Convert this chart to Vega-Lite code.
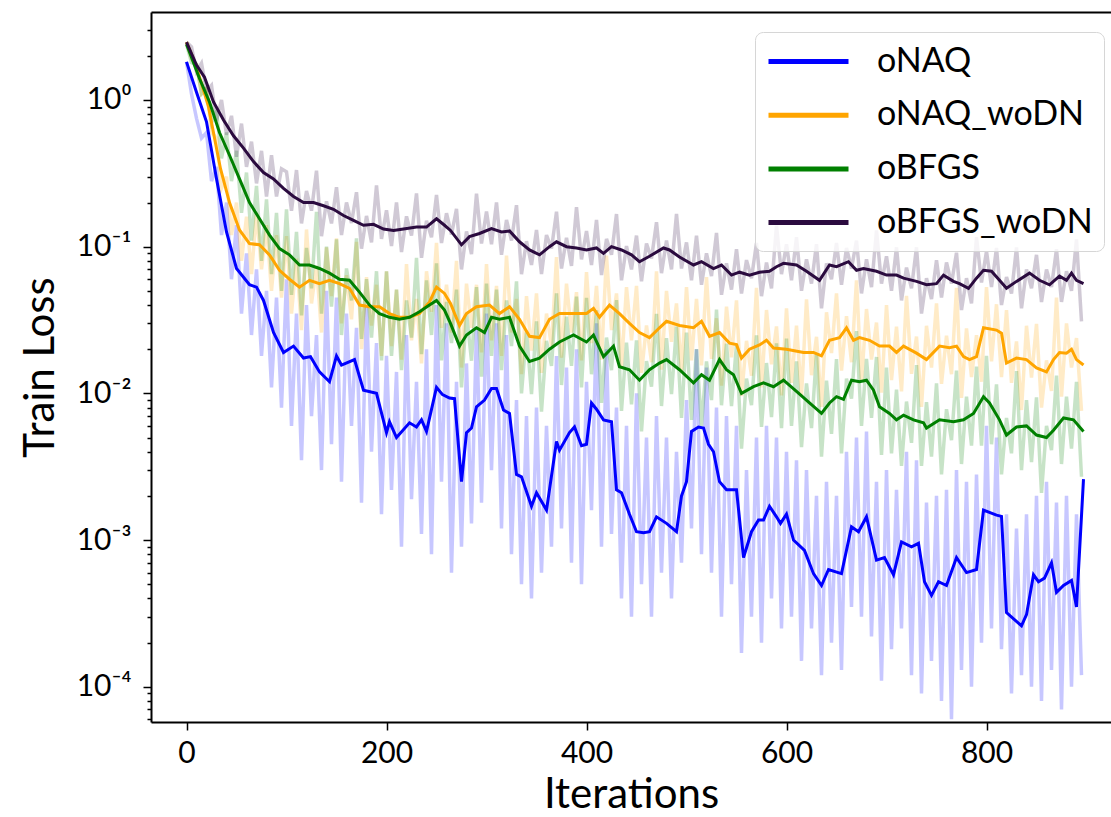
{
"$schema":"https://vega.github.io/schema/vega-lite/v6.json",
"width":960,"height":710,
"autosize":{"type":"none"},
"padding":{"left":151,"top":12,"right":0,"bottom":95},
"config":{"view":{"stroke":null},"font":"Lato"},
"datasets":{
"raw":[
{"x":0,"a":1.82,"b":2.48,"c":2.4,"d":2.48},
{"x":5,"a":1.1,"b":1.9,"c":1.8,"d":2.3},
{"x":10,"a":0.75,"b":1.75,"c":1.75,"d":1.56},
{"x":15,"a":0.55,"b":1.1,"c":1.1,"d":1.78},
{"x":20,"a":0.6,"b":1.2,"c":1.2,"d":1.15},
{"x":25,"a":0.28,"b":0.6,"c":0.7,"d":1.26},
{"x":30,"a":0.35,"b":0.55,"c":0.85,"d":0.72},
{"x":35,"a":0.12,"b":0.25,"c":0.4,"d":1.0},
{"x":40,"a":0.2,"b":0.3,"c":0.6,"d":0.58},
{"x":45,"a":0.06,"b":0.12,"c":0.28,"d":0.78},
{"x":50,"a":0.14,"b":0.2,"c":0.45,"d":0.41},
{"x":55,"a":0.035,"b":0.08,"c":0.17,"d":0.69},
{"x":60,"a":0.09,"b":0.16,"c":0.32,"d":0.35},
{"x":65,"a":0.025,"b":0.065,"c":0.11,"d":0.52},
{"x":70,"a":0.07,"b":0.17,"c":0.26,"d":0.27},
{"x":75,"a":0.018,"b":0.07,"c":0.08,"d":0.45},
{"x":80,"a":0.05,"b":0.14,"c":0.21,"d":0.22},
{"x":85,"a":0.011,"b":0.05,"c":0.065,"d":0.42},
{"x":90,"a":0.045,"b":0.12,"c":0.17,"d":0.22},
{"x":95,"a":0.008,"b":0.045,"c":0.05,"d":0.34},
{"x":100,"a":0.06,"b":0.118,"c":0.18,"d":0.324},
{"x":105,"a":0.006,"b":0.035,"c":0.047,"d":0.176},
{"x":110,"a":0.035,"b":0.083,"c":0.126,"d":0.333},
{"x":115,"a":0.0035,"b":0.027,"c":0.034,"d":0.144},
{"x":120,"a":0.04,"b":0.131,"c":0.098,"d":0.24},
{"x":125,"a":0.007,"b":0.041,"c":0.052,"d":0.176},
{"x":130,"a":0.025,"b":0.074,"c":0.173,"d":0.33},
{"x":135,"a":0.003,"b":0.026,"c":0.035,"d":0.118},
{"x":140,"a":0.05,"b":0.099,"c":0.1,"d":0.204},
{"x":145,"a":0.0045,"b":0.046,"c":0.039,"d":0.144},
{"x":150,"a":0.045,"b":0.114,"c":0.112,"d":0.254},
{"x":155,"a":0.0025,"b":0.03,"c":0.025,"d":0.12},
{"x":160,"a":0.035,"b":0.064,"c":0.071,"d":0.2},
{"x":165,"a":0.006,"b":0.032,"c":0.043,"d":0.145},
{"x":170,"a":0.028,"b":0.108,"c":0.114,"d":0.235},
{"x":175,"a":0.0018,"b":0.02,"c":0.0235,"d":0.097},
{"x":180,"a":0.04,"b":0.062,"c":0.06,"d":0.162},
{"x":185,"a":0.004,"b":0.029,"c":0.024,"d":0.107},
{"x":190,"a":0.022,"b":0.055,"c":0.068,"d":0.262},
{"x":195,"a":0.0015,"b":0.018,"c":0.0168,"d":0.113},
{"x":200,"a":0.018,"b":0.068,"c":0.068,"d":0.177},
{"x":205,"a":0.0022,"b":0.021,"c":0.018,"d":0.101},
{"x":210,"a":0.014,"b":0.051,"c":0.051,"d":0.2},
{"x":215,"a":0.0009,"b":0.017,"c":0.0144,"d":0.092},
{"x":220,"a":0.025,"b":0.076,"c":0.043,"d":0.161},
{"x":225,"a":0.0019,"b":0.023,"c":0.024,"d":0.119},
{"x":230,"a":0.012,"b":0.044,"c":0.084,"d":0.231},
{"x":235,"a":0.0011,"b":0.016,"c":0.0185,"d":0.084},
{"x":240,"a":0.02,"b":0.068,"c":0.059,"d":0.15},
{"x":245,"a":0.0008,"b":0.036,"c":0.025,"d":0.116},
{"x":250,"a":0.04,"b":0.106,"c":0.077,"d":0.225},
{"x":255,"a":0.0025,"b":0.028,"c":0.0168,"d":0.106},
{"x":260,"a":0.03,"b":0.055,"c":0.042,"d":0.169},
{"x":265,"a":0.0006,"b":0.026,"c":0.022,"d":0.121},
{"x":270,"a":0.012,"b":0.08,"c":0.051,"d":0.181},
{"x":275,"a":0.0009,"b":0.015,"c":0.011,"d":0.07},
{"x":280,"a":0.016,"b":0.056,"c":0.035,"d":0.127},
{"x":285,"a":0.0013,"b":0.028,"c":0.0167,"d":0.089},
{"x":290,"a":0.028,"b":0.055,"c":0.053,"d":0.23},
{"x":295,"a":0.0018,"b":0.019,"c":0.013,"d":0.105},
{"x":300,"a":0.035,"b":0.076,"c":0.056,"d":0.174},
{"x":305,"a":0.003,"b":0.023,"c":0.018,"d":0.104},
{"x":310,"a":0.03,"b":0.054,"c":0.051,"d":0.2},
{"x":315,"a":0.0012,"b":0.018,"c":0.0144,"d":0.088},
{"x":320,"a":0.025,"b":0.087,"c":0.043,"d":0.152},
{"x":325,"a":0.0008,"b":0.026,"c":0.021,"d":0.11},
{"x":330,"a":0.009,"b":0.044,"c":0.058,"d":0.192},
{"x":335,"a":0.0005,"b":0.0135,"c":0.01,"d":0.065},
{"x":340,"a":0.007,"b":0.046,"c":0.026,"d":0.109},
{"x":345,"a":0.0004,"b":0.0196,"c":0.0099,"d":0.075},
{"x":350,"a":0.008,"b":0.048,"c":0.031,"d":0.13},
{"x":355,"a":0.0006,"b":0.0138,"c":0.0075,"d":0.065},
{"x":360,"a":0.006,"b":0.035,"c":0.0228,"d":0.12},
{"x":365,"a":0.0009,"b":0.021,"c":0.0154,"d":0.097},
{"x":370,"a":0.018,"b":0.085,"c":0.048,"d":0.173},
{"x":375,"a":0.0012,"b":0.0175,"c":0.0114,"d":0.071},
{"x":380,"a":0.015,"b":0.056,"c":0.0333,"d":0.115},
{"x":385,"a":0.0007,"b":0.026,"c":0.0154,"d":0.074},
{"x":390,"a":0.02,"b":0.049,"c":0.0456,"d":0.186},
{"x":395,"a":0.0005,"b":0.0168,"c":0.011,"d":0.082},
{"x":400,"a":0.012,"b":0.067,"c":0.0448,"d":0.128},
{"x":405,"a":0.0016,"b":0.022,"c":0.0135,"d":0.075},
{"x":410,"a":0.03,"b":0.054,"c":0.0368,"d":0.152},
{"x":415,"a":0.0009,"b":0.017,"c":0.0086,"d":0.064},
{"x":420,"a":0.02,"b":0.087,"c":0.024,"d":0.113},
{"x":425,"a":0.0011,"b":0.027,"c":0.0144,"d":0.088},
{"x":430,"a":0.008,"b":0.048,"c":0.0432,"d":0.167},
{"x":435,"a":0.0004,"b":0.0153,"c":0.0076,"d":0.059},
{"x":440,"a":0.006,"b":0.053,"c":0.0222,"d":0.101},
{"x":445,"a":0.0003,"b":0.023,"c":0.0084,"d":0.07},
{"x":450,"a":0.01,"b":0.054,"c":0.023,"d":0.119},
{"x":455,"a":0.0005,"b":0.0138,"c":0.0055,"d":0.058},
{"x":460,"a":0.005,"b":0.029,"c":0.0166,"d":0.105},
{"x":465,"a":0.0003,"b":0.0163,"c":0.0111,"d":0.083},
{"x":470,"a":0.007,"b":0.068,"c":0.0348,"d":0.147},
{"x":475,"a":0.0006,"b":0.0145,"c":0.0082,"d":0.066},
{"x":480,"a":0.005,"b":0.05,"c":0.0238,"d":0.11},
{"x":485,"a":0.0004,"b":0.0225,"c":0.0099,"d":0.07},
{"x":490,"a":0.004,"b":0.041,"c":0.0285,"d":0.167},
{"x":495,"a":0.0007,"b":0.0139,"c":0.0068,"d":0.071},
{"x":500,"a":0.009,"b":0.053,"c":0.026,"d":0.107},
{"x":505,"a":0.0012,"b":0.0168,"c":0.0066,"d":0.059},
{"x":510,"a":0.02,"b":0.044,"c":0.02,"d":0.119},
{"x":515,"a":0.0008,"b":0.0155,"c":0.006,"d":0.055},
{"x":520,"a":0.015,"b":0.062,"c":0.0165,"d":0.09},
{"x":525,"a":0.0006,"b":0.0172,"c":0.009,"d":0.063},
{"x":530,"a":0.008,"b":0.0325,"c":0.0372,"d":0.124},
{"x":535,"a":0.0003,"b":0.0113,"c":0.0083,"d":0.047},
{"x":540,"a":0.007,"b":0.039,"c":0.0218,"d":0.077},
{"x":545,"a":0.0005,"b":0.0176,"c":0.0082,"d":0.051},
{"x":550,"a":0.006,"b":0.043,"c":0.0216,"d":0.096},
{"x":555,"a":0.00017,"b":0.0096,"c":0.0042,"d":0.048},
{"x":560,"a":0.003,"b":0.0228,"c":0.0126,"d":0.081},
{"x":565,"a":0.0003,"b":0.0132,"c":0.0083,"d":0.061},
{"x":570,"a":0.005,"b":0.0525,"c":0.0249,"d":0.106},
{"x":575,"a":0.0002,"b":0.011,"c":0.0059,"d":0.046},
{"x":580,"a":0.006,"b":0.037,"c":0.0161,"d":0.078},
{"x":585,"a":0.0004,"b":0.0158,"c":0.0069,"d":0.052},
{"x":590,"a":0.005,"b":0.0286,"c":0.0219,"d":0.139},
{"x":595,"a":0.00025,"b":0.0097,"c":0.0058,"d":0.065},
{"x":600,"a":0.004,"b":0.038,"c":0.0236,"d":0.104},
{"x":605,"a":0.0003,"b":0.0118,"c":0.006,"d":0.059},
{"x":610,"a":0.0035,"b":0.029,"c":0.0165,"d":0.116},
{"x":615,"a":0.00015,"b":0.0096,"c":0.0043,"d":0.05},
{"x":620,"a":0.003,"b":0.0437,"c":0.0117,"d":0.082},
{"x":625,"a":0.00025,"b":0.0133,"c":0.0058,"d":0.056},
{"x":630,"a":0.002,"b":0.0243,"c":0.0187,"d":0.104},
{"x":635,"a":0.00012,"b":0.0081,"c":0.0037,"d":0.038},
{"x":640,"a":0.0025,"b":0.0357,"c":0.0122,"d":0.077},
{"x":645,"a":0.0002,"b":0.0188,"c":0.0053,"d":0.06},
{"x":650,"a":0.002,"b":0.048,"c":0.0171,"d":0.106},
{"x":655,"a":0.00013,"b":0.0143,"c":0.0039,"d":0.055},
{"x":660,"a":0.004,"b":0.0336,"c":0.0126,"d":0.098},
{"x":665,"a":0.00035,"b":0.0163,"c":0.0092,"d":0.071},
{"x":670,"a":0.005,"b":0.059,"c":0.0266,"d":0.11},
{"x":675,"a":0.0003,"b":0.012,"c":0.006,"d":0.048},
{"x":680,"a":0.0055,"b":0.0376,"c":0.0172,"d":0.082},
{"x":685,"a":0.00022,"b":0.017,"c":0.0068,"d":0.053},
{"x":690,"a":0.0025,"b":0.0304,"c":0.0177,"d":0.129},
{"x":695,"a":0.00011,"b":0.0101,"c":0.0038,"d":0.056},
{"x":700,"a":0.003,"b":0.04,"c":0.015,"d":0.086},
{"x":705,"a":0.00018,"b":0.0123,"c":0.0039,"d":0.05},
{"x":710,"a":0.0022,"b":0.0285,"c":0.0106,"d":0.099},
{"x":715,"a":0.00025,"b":0.0103,"c":0.0032,"d":0.043},
{"x":720,"a":0.004,"b":0.0462,"c":0.0088,"d":0.072},
{"x":725,"a":0.00012,"b":0.0136,"c":0.0046,"d":0.052},
{"x":730,"a":0.0035,"b":0.0244,"c":0.0156,"d":0.099},
{"x":735,"a":0.00009,"b":0.0081,"c":0.0032,"d":0.035},
{"x":740,"a":0.0018,"b":0.0289,"c":0.0087,"d":0.061},
{"x":745,"a":0.00015,"b":0.015,"c":0.0037,"d":0.044},
{"x":750,"a":0.002,"b":0.041,"c":0.0117,"d":0.081},
{"x":755,"a":0.00008,"b":0.0116,"c":0.0028,"d":0.045},
{"x":760,"a":0.0022,"b":0.0247,"c":0.0078,"d":0.078},
{"x":765,"a":0.00006,"b":0.0135,"c":0.0048,"d":0.056},
{"x":770,"a":0.003,"b":0.0525,"c":0.0143,"d":0.091},
{"x":775,"a":0.00013,"b":0.0093,"c":0.0033,"d":0.037},
{"x":780,"a":0.0025,"b":0.0277,"c":0.0095,"d":0.061},
{"x":785,"a":0.0001,"b":0.0129,"c":0.0044,"d":0.041},
{"x":790,"a":0.0028,"b":0.0249,"c":0.0152,"d":0.116},
{"x":795,"a":0.0002,"b":0.012,"c":0.0044,"d":0.057},
{"x":800,"a":0.006,"b":0.053,"c":0.018,"d":0.093},
{"x":805,"a":0.00025,"b":0.0165,"c":0.0045,"d":0.053},
{"x":810,"a":0.005,"b":0.0405,"c":0.0115,"d":0.098},
{"x":815,"a":0.00018,"b":0.0129,"c":0.0028,"d":0.04},
{"x":820,"a":0.0015,"b":0.037,"c":0.0068,"d":0.062},
{"x":825,"a":0.00009,"b":0.0118,"c":0.0039,"d":0.048},
{"x":830,"a":0.0012,"b":0.0226,"c":0.0142,"d":0.099},
{"x":835,"a":0.00012,"b":0.0077,"c":0.003,"d":0.038},
{"x":840,"a":0.0015,"b":0.0289,"c":0.009,"d":0.07},
{"x":845,"a":0.0001,"b":0.0128,"c":0.0034,"d":0.052},
{"x":850,"a":0.002,"b":0.0298,"c":0.0094,"d":0.088},
{"x":855,"a":0.00008,"b":0.008,"c":0.0021,"d":0.042},
{"x":860,"a":0.0025,"b":0.0168,"c":0.006,"d":0.07},
{"x":865,"a":0.00013,"b":0.0104,"c":0.0041,"d":0.053},
{"x":870,"a":0.0018,"b":0.045,"c":0.0132,"d":0.096},
{"x":875,"a":0.00007,"b":0.0095,"c":0.0033,"d":0.042},
{"x":880,"a":0.002,"b":0.03,"c":0.0095,"d":0.068},
{"x":885,"a":0.0001,"b":0.015,"c":0.0042,"d":0.05},
{"x":890,"a":0.0015,"b":0.0238,"c":0.012,"d":0.112},
{"x":895,"a":0.00012,"b":0.0076,"c":0.0027,"d":0.031}
],
"smooth":[
{"s":"oNAQ","x":0,"y":1.82},{"s":"oNAQ","x":10,"y":1.13},{"s":"oNAQ","x":20,"y":0.71},{"s":"oNAQ","x":30,"y":0.29},{"s":"oNAQ","x":40,"y":0.126},{"s":"oNAQ","x":50,"y":0.071},{"s":"oNAQ","x":63,"y":0.055},{"s":"oNAQ","x":70,"y":0.053},{"s":"oNAQ","x":77,"y":0.043},{"s":"oNAQ","x":87,"y":0.026},{"s":"oNAQ","x":97,"y":0.019},{"s":"oNAQ","x":107,"y":0.021},{"s":"oNAQ","x":117,"y":0.0174},{"s":"oNAQ","x":124,"y":0.0178},{"s":"oNAQ","x":133,"y":0.014},{"s":"oNAQ","x":143,"y":0.012},{"s":"oNAQ","x":150,"y":0.018},{"s":"oNAQ","x":155,"y":0.0156},{"s":"oNAQ","x":168,"y":0.017},{"s":"oNAQ","x":177,"y":0.0105},{"s":"oNAQ","x":190,"y":0.01},{"s":"oNAQ","x":200,"y":0.0054},{"s":"oNAQ","x":203,"y":0.0064},{"s":"oNAQ","x":210,"y":0.005},{"s":"oNAQ","x":223,"y":0.0063},{"s":"oNAQ","x":230,"y":0.0059},{"s":"oNAQ","x":235,"y":0.0066},{"s":"oNAQ","x":240,"y":0.0055},{"s":"oNAQ","x":250,"y":0.011},{"s":"oNAQ","x":256,"y":0.0098},{"s":"oNAQ","x":263,"y":0.0093},{"s":"oNAQ","x":268,"y":0.0092},{"s":"oNAQ","x":275,"y":0.0025},{"s":"oNAQ","x":280,"y":0.0054},{"s":"oNAQ","x":285,"y":0.0058},{"s":"oNAQ","x":290,"y":0.0081},{"s":"oNAQ","x":298,"y":0.009},{"s":"oNAQ","x":305,"y":0.0108},{"s":"oNAQ","x":310,"y":0.0108},{"s":"oNAQ","x":317,"y":0.0077},{"s":"oNAQ","x":323,"y":0.0073},{"s":"oNAQ","x":330,"y":0.0028},{"s":"oNAQ","x":335,"y":0.0027},{"s":"oNAQ","x":345,"y":0.0017},{"s":"oNAQ","x":350,"y":0.0021},{"s":"oNAQ","x":360,"y":0.0016},{"s":"oNAQ","x":370,"y":0.0047},{"s":"oNAQ","x":373,"y":0.0041},{"s":"oNAQ","x":383,"y":0.0054},{"s":"oNAQ","x":388,"y":0.0059},{"s":"oNAQ","x":395,"y":0.0044},{"s":"oNAQ","x":400,"y":0.0045},{"s":"oNAQ","x":405,"y":0.0086},{"s":"oNAQ","x":410,"y":0.0078},{"s":"oNAQ","x":417,"y":0.0066},{"s":"oNAQ","x":425,"y":0.0064},{"s":"oNAQ","x":430,"y":0.0022},{"s":"oNAQ","x":435,"y":0.0021},{"s":"oNAQ","x":443,"y":0.0015},{"s":"oNAQ","x":450,"y":0.00114},{"s":"oNAQ","x":457,"y":0.00112},{"s":"oNAQ","x":463,"y":0.00114},{"s":"oNAQ","x":470,"y":0.00144},{"s":"oNAQ","x":480,"y":0.0013},{"s":"oNAQ","x":490,"y":0.00114},{"s":"oNAQ","x":495,"y":0.002},{"s":"oNAQ","x":500,"y":0.0025},{"s":"oNAQ","x":505,"y":0.0055},{"s":"oNAQ","x":512,"y":0.0059},{"s":"oNAQ","x":517,"y":0.0058},{"s":"oNAQ","x":522,"y":0.0045},{"s":"oNAQ","x":527,"y":0.004},{"s":"oNAQ","x":533,"y":0.0025},{"s":"oNAQ","x":540,"y":0.0022},{"s":"oNAQ","x":550,"y":0.0022},{"s":"oNAQ","x":557,"y":0.00076},{"s":"oNAQ","x":565,"y":0.00114},{"s":"oNAQ","x":572,"y":0.00137},{"s":"oNAQ","x":577,"y":0.00137},{"s":"oNAQ","x":583,"y":0.0017},{"s":"oNAQ","x":590,"y":0.00144},{"s":"oNAQ","x":594,"y":0.0013},{"s":"oNAQ","x":600,"y":0.0015},{"s":"oNAQ","x":607,"y":0.001},{"s":"oNAQ","x":618,"y":0.00085},{"s":"oNAQ","x":627,"y":0.00059},{"s":"oNAQ","x":635,"y":0.00049},{"s":"oNAQ","x":642,"y":0.00063},{"s":"oNAQ","x":655,"y":0.00059},{"s":"oNAQ","x":665,"y":0.00123},{"s":"oNAQ","x":672,"y":0.00114},{"s":"oNAQ","x":680,"y":0.00144},{"s":"oNAQ","x":690,"y":0.00073},{"s":"oNAQ","x":698,"y":0.00076},{"s":"oNAQ","x":707,"y":0.00058},{"s":"oNAQ","x":715,"y":0.00097},{"s":"oNAQ","x":725,"y":0.0009},{"s":"oNAQ","x":732,"y":0.00095},{"s":"oNAQ","x":738,"y":0.00052},{"s":"oNAQ","x":745,"y":0.00042},{"s":"oNAQ","x":752,"y":0.00052},{"s":"oNAQ","x":760,"y":0.00049},{"s":"oNAQ","x":770,"y":0.00076},{"s":"oNAQ","x":780,"y":0.0006},{"s":"oNAQ","x":790,"y":0.00063},{"s":"oNAQ","x":797,"y":0.0016},{"s":"oNAQ","x":810,"y":0.00148},{"s":"oNAQ","x":815,"y":0.00145},{"s":"oNAQ","x":820,"y":0.00032},{"s":"oNAQ","x":835,"y":0.00026},{"s":"oNAQ","x":840,"y":0.00031},{"s":"oNAQ","x":847,"y":0.00058},{"s":"oNAQ","x":852,"y":0.00052},{"s":"oNAQ","x":858,"y":0.00055},{"s":"oNAQ","x":865,"y":0.0007},{"s":"oNAQ","x":870,"y":0.00044},{"s":"oNAQ","x":877,"y":0.00049},{"s":"oNAQ","x":885,"y":0.00053},{"s":"oNAQ","x":890,"y":0.00035},{"s":"oNAQ","x":897,"y":0.0026},
{"s":"oNAQ_woDN","x":0,"y":2.48},{"s":"oNAQ_woDN","x":7,"y":1.9},{"s":"oNAQ_woDN","x":15,"y":1.3},{"s":"oNAQ_woDN","x":22,"y":0.9},{"s":"oNAQ_woDN","x":28,"y":0.55},{"s":"oNAQ_woDN","x":34,"y":0.34},{"s":"oNAQ_woDN","x":43,"y":0.2},{"s":"oNAQ_woDN","x":53,"y":0.13},{"s":"oNAQ_woDN","x":63,"y":0.105},{"s":"oNAQ_woDN","x":73,"y":0.103},{"s":"oNAQ_woDN","x":83,"y":0.088},{"s":"oNAQ_woDN","x":93,"y":0.069},{"s":"oNAQ_woDN","x":103,"y":0.06},{"s":"oNAQ_woDN","x":113,"y":0.053},{"s":"oNAQ_woDN","x":123,"y":0.059},{"s":"oNAQ_woDN","x":133,"y":0.056},{"s":"oNAQ_woDN","x":143,"y":0.059},{"s":"oNAQ_woDN","x":153,"y":0.056},{"s":"oNAQ_woDN","x":163,"y":0.052},{"s":"oNAQ_woDN","x":173,"y":0.04},{"s":"oNAQ_woDN","x":183,"y":0.039},{"s":"oNAQ_woDN","x":193,"y":0.039},{"s":"oNAQ_woDN","x":203,"y":0.035},{"s":"oNAQ_woDN","x":213,"y":0.033},{"s":"oNAQ_woDN","x":223,"y":0.033},{"s":"oNAQ_woDN","x":233,"y":0.035},{"s":"oNAQ_woDN","x":243,"y":0.042},{"s":"oNAQ_woDN","x":250,"y":0.053},{"s":"oNAQ_woDN","x":258,"y":0.048},{"s":"oNAQ_woDN","x":264,"y":0.041},{"s":"oNAQ_woDN","x":273,"y":0.029},{"s":"oNAQ_woDN","x":280,"y":0.035},{"s":"oNAQ_woDN","x":290,"y":0.039},{"s":"oNAQ_woDN","x":303,"y":0.04},{"s":"oNAQ_woDN","x":313,"y":0.035},{"s":"oNAQ_woDN","x":323,"y":0.039},{"s":"oNAQ_woDN","x":333,"y":0.032},{"s":"oNAQ_woDN","x":343,"y":0.0245},{"s":"oNAQ_woDN","x":353,"y":0.024},{"s":"oNAQ_woDN","x":363,"y":0.032},{"s":"oNAQ_woDN","x":373,"y":0.035},{"s":"oNAQ_woDN","x":387,"y":0.035},{"s":"oNAQ_woDN","x":400,"y":0.035},{"s":"oNAQ_woDN","x":407,"y":0.038},{"s":"oNAQ_woDN","x":413,"y":0.033},{"s":"oNAQ_woDN","x":423,"y":0.04},{"s":"oNAQ_woDN","x":433,"y":0.035},{"s":"oNAQ_woDN","x":443,"y":0.03},{"s":"oNAQ_woDN","x":453,"y":0.026},{"s":"oNAQ_woDN","x":463,"y":0.024},{"s":"oNAQ_woDN","x":473,"y":0.028},{"s":"oNAQ_woDN","x":480,"y":0.031},{"s":"oNAQ_woDN","x":493,"y":0.029},{"s":"oNAQ_woDN","x":507,"y":0.028},{"s":"oNAQ_woDN","x":515,"y":0.031},{"s":"oNAQ_woDN","x":523,"y":0.0245},{"s":"oNAQ_woDN","x":533,"y":0.026},{"s":"oNAQ_woDN","x":543,"y":0.022},{"s":"oNAQ_woDN","x":550,"y":0.0215},{"s":"oNAQ_woDN","x":555,"y":0.0174},{"s":"oNAQ_woDN","x":563,"y":0.02},{"s":"oNAQ_woDN","x":573,"y":0.0214},{"s":"oNAQ_woDN","x":580,"y":0.023},{"s":"oNAQ_woDN","x":587,"y":0.0204},{"s":"oNAQ_woDN","x":600,"y":0.02},{"s":"oNAQ_woDN","x":617,"y":0.019},{"s":"oNAQ_woDN","x":627,"y":0.019},{"s":"oNAQ_woDN","x":635,"y":0.018},{"s":"oNAQ_woDN","x":643,"y":0.023},{"s":"oNAQ_woDN","x":653,"y":0.024},{"s":"oNAQ_woDN","x":660,"y":0.028},{"s":"oNAQ_woDN","x":667,"y":0.023},{"s":"oNAQ_woDN","x":673,"y":0.024},{"s":"oNAQ_woDN","x":683,"y":0.023},{"s":"oNAQ_woDN","x":693,"y":0.021},{"s":"oNAQ_woDN","x":703,"y":0.021},{"s":"oNAQ_woDN","x":710,"y":0.019},{"s":"oNAQ_woDN","x":717,"y":0.021},{"s":"oNAQ_woDN","x":730,"y":0.0188},{"s":"oNAQ_woDN","x":740,"y":0.017},{"s":"oNAQ_woDN","x":753,"y":0.021},{"s":"oNAQ_woDN","x":763,"y":0.0205},{"s":"oNAQ_woDN","x":770,"y":0.021},{"s":"oNAQ_woDN","x":777,"y":0.0178},{"s":"oNAQ_woDN","x":783,"y":0.017},{"s":"oNAQ_woDN","x":790,"y":0.0178},{"s":"oNAQ_woDN","x":797,"y":0.028},{"s":"oNAQ_woDN","x":810,"y":0.027},{"s":"oNAQ_woDN","x":815,"y":0.0257},{"s":"oNAQ_woDN","x":820,"y":0.0161},{"s":"oNAQ_woDN","x":830,"y":0.0174},{"s":"oNAQ_woDN","x":840,"y":0.017},{"s":"oNAQ_woDN","x":850,"y":0.0149},{"s":"oNAQ_woDN","x":860,"y":0.014},{"s":"oNAQ_woDN","x":867,"y":0.017},{"s":"oNAQ_woDN","x":873,"y":0.019},{"s":"oNAQ_woDN","x":880,"y":0.0188},{"s":"oNAQ_woDN","x":885,"y":0.02},{"s":"oNAQ_woDN","x":890,"y":0.017},{"s":"oNAQ_woDN","x":897,"y":0.0156},
{"s":"oBFGS","x":0,"y":2.4},{"s":"oBFGS","x":13,"y":1.4},{"s":"oBFGS","x":23,"y":0.97},{"s":"oBFGS","x":33,"y":0.6},{"s":"oBFGS","x":43,"y":0.42},{"s":"oBFGS","x":53,"y":0.29},{"s":"oBFGS","x":63,"y":0.2},{"s":"oBFGS","x":73,"y":0.155},{"s":"oBFGS","x":83,"y":0.12},{"s":"oBFGS","x":93,"y":0.097},{"s":"oBFGS","x":103,"y":0.088},{"s":"oBFGS","x":113,"y":0.075},{"s":"oBFGS","x":123,"y":0.075},{"s":"oBFGS","x":133,"y":0.071},{"s":"oBFGS","x":143,"y":0.066},{"s":"oBFGS","x":153,"y":0.06},{"s":"oBFGS","x":163,"y":0.059},{"s":"oBFGS","x":173,"y":0.049},{"s":"oBFGS","x":183,"y":0.04},{"s":"oBFGS","x":193,"y":0.035},{"s":"oBFGS","x":203,"y":0.033},{"s":"oBFGS","x":213,"y":0.032},{"s":"oBFGS","x":223,"y":0.033},{"s":"oBFGS","x":233,"y":0.036},{"s":"oBFGS","x":243,"y":0.04},{"s":"oBFGS","x":250,"y":0.043},{"s":"oBFGS","x":258,"y":0.037},{"s":"oBFGS","x":264,"y":0.03},{"s":"oBFGS","x":273,"y":0.021},{"s":"oBFGS","x":280,"y":0.025},{"s":"oBFGS","x":290,"y":0.028},{"s":"oBFGS","x":298,"y":0.026},{"s":"oBFGS","x":305,"y":0.033},{"s":"oBFGS","x":313,"y":0.032},{"s":"oBFGS","x":323,"y":0.033},{"s":"oBFGS","x":333,"y":0.021},{"s":"oBFGS","x":343,"y":0.0165},{"s":"oBFGS","x":353,"y":0.0174},{"s":"oBFGS","x":363,"y":0.02},{"s":"oBFGS","x":373,"y":0.0224},{"s":"oBFGS","x":387,"y":0.025},{"s":"oBFGS","x":400,"y":0.0224},{"s":"oBFGS","x":407,"y":0.025},{"s":"oBFGS","x":417,"y":0.0178},{"s":"oBFGS","x":427,"y":0.021},{"s":"oBFGS","x":433,"y":0.0152},{"s":"oBFGS","x":443,"y":0.0145},{"s":"oBFGS","x":453,"y":0.0123},{"s":"oBFGS","x":463,"y":0.0145},{"s":"oBFGS","x":473,"y":0.0161},{"s":"oBFGS","x":480,"y":0.017},{"s":"oBFGS","x":493,"y":0.0145},{"s":"oBFGS","x":507,"y":0.0118},{"s":"oBFGS","x":515,"y":0.0134},{"s":"oBFGS","x":523,"y":0.0123},{"s":"oBFGS","x":533,"y":0.017},{"s":"oBFGS","x":540,"y":0.0145},{"s":"oBFGS","x":547,"y":0.0134},{"s":"oBFGS","x":555,"y":0.01},{"s":"oBFGS","x":567,"y":0.0111},{"s":"oBFGS","x":577,"y":0.0118},{"s":"oBFGS","x":587,"y":0.0111},{"s":"oBFGS","x":597,"y":0.0123},{"s":"oBFGS","x":610,"y":0.0103},{"s":"oBFGS","x":623,"y":0.0086},{"s":"oBFGS","x":635,"y":0.0073},{"s":"oBFGS","x":643,"y":0.0086},{"s":"oBFGS","x":650,"y":0.0095},{"s":"oBFGS","x":657,"y":0.0091},{"s":"oBFGS","x":665,"y":0.0123},{"s":"oBFGS","x":673,"y":0.012},{"s":"oBFGS","x":680,"y":0.0123},{"s":"oBFGS","x":687,"y":0.0105},{"s":"oBFGS","x":693,"y":0.0081},{"s":"oBFGS","x":703,"y":0.0073},{"s":"oBFGS","x":710,"y":0.0066},{"s":"oBFGS","x":717,"y":0.0071},{"s":"oBFGS","x":727,"y":0.0066},{"s":"oBFGS","x":737,"y":0.0063},{"s":"oBFGS","x":740,"y":0.0058},{"s":"oBFGS","x":753,"y":0.0066},{"s":"oBFGS","x":767,"y":0.0064},{"s":"oBFGS","x":777,"y":0.0066},{"s":"oBFGS","x":787,"y":0.0073},{"s":"oBFGS","x":797,"y":0.0095},{"s":"oBFGS","x":803,"y":0.0086},{"s":"oBFGS","x":813,"y":0.0066},{"s":"oBFGS","x":820,"y":0.0052},{"s":"oBFGS","x":830,"y":0.0059},{"s":"oBFGS","x":840,"y":0.006},{"s":"oBFGS","x":850,"y":0.0052},{"s":"oBFGS","x":860,"y":0.005},{"s":"oBFGS","x":867,"y":0.0056},{"s":"oBFGS","x":877,"y":0.0068},{"s":"oBFGS","x":887,"y":0.0066},{"s":"oBFGS","x":897,"y":0.0055},
{"s":"oBFGS_woDN","x":0,"y":2.48},{"s":"oBFGS_woDN","x":10,"y":1.73},{"s":"oBFGS_woDN","x":18,"y":1.43},{"s":"oBFGS_woDN","x":27,"y":0.97},{"s":"oBFGS_woDN","x":37,"y":0.73},{"s":"oBFGS_woDN","x":47,"y":0.57},{"s":"oBFGS_woDN","x":57,"y":0.47},{"s":"oBFGS_woDN","x":67,"y":0.38},{"s":"oBFGS_woDN","x":77,"y":0.32},{"s":"oBFGS_woDN","x":87,"y":0.29},{"s":"oBFGS_woDN","x":97,"y":0.25},{"s":"oBFGS_woDN","x":107,"y":0.22},{"s":"oBFGS_woDN","x":117,"y":0.2},{"s":"oBFGS_woDN","x":127,"y":0.2},{"s":"oBFGS_woDN","x":137,"y":0.19},{"s":"oBFGS_woDN","x":147,"y":0.18},{"s":"oBFGS_woDN","x":157,"y":0.163},{"s":"oBFGS_woDN","x":167,"y":0.151},{"s":"oBFGS_woDN","x":177,"y":0.14},{"s":"oBFGS_woDN","x":187,"y":0.142},{"s":"oBFGS_woDN","x":197,"y":0.132},{"s":"oBFGS_woDN","x":207,"y":0.129},{"s":"oBFGS_woDN","x":217,"y":0.132},{"s":"oBFGS_woDN","x":230,"y":0.136},{"s":"oBFGS_woDN","x":240,"y":0.136},{"s":"oBFGS_woDN","x":250,"y":0.155},{"s":"oBFGS_woDN","x":258,"y":0.14},{"s":"oBFGS_woDN","x":264,"y":0.129},{"s":"oBFGS_woDN","x":275,"y":0.103},{"s":"oBFGS_woDN","x":283,"y":0.117},{"s":"oBFGS_woDN","x":293,"y":0.123},{"s":"oBFGS_woDN","x":305,"y":0.133},{"s":"oBFGS_woDN","x":315,"y":0.126},{"s":"oBFGS_woDN","x":323,"y":0.128},{"s":"oBFGS_woDN","x":333,"y":0.108},{"s":"oBFGS_woDN","x":343,"y":0.095},{"s":"oBFGS_woDN","x":353,"y":0.088},{"s":"oBFGS_woDN","x":363,"y":0.1},{"s":"oBFGS_woDN","x":370,"y":0.108},{"s":"oBFGS_woDN","x":380,"y":0.1},{"s":"oBFGS_woDN","x":390,"y":0.098},{"s":"oBFGS_woDN","x":400,"y":0.095},{"s":"oBFGS_woDN","x":410,"y":0.098},{"s":"oBFGS_woDN","x":417,"y":0.09},{"s":"oBFGS_woDN","x":425,"y":0.1},{"s":"oBFGS_woDN","x":435,"y":0.095},{"s":"oBFGS_woDN","x":445,"y":0.088},{"s":"oBFGS_woDN","x":453,"y":0.079},{"s":"oBFGS_woDN","x":463,"y":0.086},{"s":"oBFGS_woDN","x":477,"y":0.098},{"s":"oBFGS_woDN","x":483,"y":0.095},{"s":"oBFGS_woDN","x":493,"y":0.085},{"s":"oBFGS_woDN","x":507,"y":0.075},{"s":"oBFGS_woDN","x":515,"y":0.079},{"s":"oBFGS_woDN","x":527,"y":0.071},{"s":"oBFGS_woDN","x":535,"y":0.075},{"s":"oBFGS_woDN","x":545,"y":0.064},{"s":"oBFGS_woDN","x":553,"y":0.067},{"s":"oBFGS_woDN","x":563,"y":0.064},{"s":"oBFGS_woDN","x":573,"y":0.067},{"s":"oBFGS_woDN","x":583,"y":0.068},{"s":"oBFGS_woDN","x":590,"y":0.073},{"s":"oBFGS_woDN","x":597,"y":0.077},{"s":"oBFGS_woDN","x":610,"y":0.075},{"s":"oBFGS_woDN","x":620,"y":0.068},{"s":"oBFGS_woDN","x":633,"y":0.059},{"s":"oBFGS_woDN","x":643,"y":0.075},{"s":"oBFGS_woDN","x":650,"y":0.073},{"s":"oBFGS_woDN","x":662,"y":0.079},{"s":"oBFGS_woDN","x":670,"y":0.069},{"s":"oBFGS_woDN","x":677,"y":0.071},{"s":"oBFGS_woDN","x":690,"y":0.068},{"s":"oBFGS_woDN","x":700,"y":0.064},{"s":"oBFGS_woDN","x":710,"y":0.064},{"s":"oBFGS_woDN","x":717,"y":0.061},{"s":"oBFGS_woDN","x":730,"y":0.058},{"s":"oBFGS_woDN","x":740,"y":0.055},{"s":"oBFGS_woDN","x":750,"y":0.056},{"s":"oBFGS_woDN","x":757,"y":0.064},{"s":"oBFGS_woDN","x":767,"y":0.058},{"s":"oBFGS_woDN","x":773,"y":0.056},{"s":"oBFGS_woDN","x":782,"y":0.052},{"s":"oBFGS_woDN","x":790,"y":0.061},{"s":"oBFGS_woDN","x":797,"y":0.069},{"s":"oBFGS_woDN","x":805,"y":0.068},{"s":"oBFGS_woDN","x":813,"y":0.059},{"s":"oBFGS_woDN","x":820,"y":0.052},{"s":"oBFGS_woDN","x":830,"y":0.058},{"s":"oBFGS_woDN","x":843,"y":0.066},{"s":"oBFGS_woDN","x":853,"y":0.059},{"s":"oBFGS_woDN","x":863,"y":0.055},{"s":"oBFGS_woDN","x":873,"y":0.063},{"s":"oBFGS_woDN","x":880,"y":0.059},{"s":"oBFGS_woDN","x":885,"y":0.066},{"s":"oBFGS_woDN","x":890,"y":0.059},{"s":"oBFGS_woDN","x":897,"y":0.056}
]},
"layer":[
{"data":{"name":"raw"},
 "transform":[{"fold":["a","b","c","d"],"as":["series","loss"]}],
 "mark":{"type":"line","strokeWidth":3.5,"opacity":0.22,"clip":true},
 "encoding":{
  "x":{"field":"x","type":"quantitative","scale":{"domain":[-35.5,924.5],"nice":false,"zero":false},
   "axis":{"values":[0,200,400,600,800],"format":"d","title":"Iterations","grid":false,"tickSize":8,"tickWidth":1.5,"tickColor":"black","domainColor":"black","domainWidth":2,"labelFontSize":30,"labelColor":"black","labelPadding":8,"labelFont":"Lato","titleFont":"Lato","titleFontSize":42,"titleFontWeight":"normal","titleColor":"black","titlePadding":6}},
  "y":{"field":"loss","type":"quantitative","scale":{"type":"log","domain":[0.0000575,3.98],"nice":false},
   "axis":{"values":[0.00006,0.00007,0.00008,0.00009,0.0001,0.0002,0.0003,0.0004,0.0005,0.0006,0.0007,0.0008,0.0009,0.001,0.002,0.003,0.004,0.005,0.006,0.007,0.008,0.009,0.01,0.02,0.03,0.04,0.05,0.06,0.07,0.08,0.09,0.1,0.2,0.3,0.4,0.5,0.6,0.7,0.8,0.9,1,2,3],
    "labelExpr":"datum.value == 1 ? '10⁰' : datum.value == 0.1 ? '10⁻¹' : datum.value == 0.01 ? '10⁻²' : datum.value == 0.001 ? '10⁻³' : datum.value == 0.0001 ? '10⁻⁴' : ''",
    "tickSize":{"condition":{"test":"datum.value == 1 || datum.value == 0.1 || datum.value == 0.01 || datum.value == 0.001 || datum.value == 0.0001","value":8},"value":4},
    "title":"Train Loss","grid":false,"tickWidth":1.5,"tickColor":"black","domainColor":"black","domainWidth":2,"labelFontSize":30,"labelColor":"black","labelPadding":12,"labelFont":"Lato","labelOverlap":false,"titleFont":"Lato","titleFontSize":42,"titleFontWeight":"normal","titleColor":"black","titlePadding":14}},
  "stroke":{"field":"series","type":"nominal","scale":{"domain":["a","b","c","d"],"range":["#0000ff","#ffa500","#008000","#2b0b3f"]},"legend":null}
 }},
{"data":{"name":"smooth"},
 "mark":{"type":"line","strokeWidth":3,"clip":true},
 "encoding":{
  "x":{"field":"x","type":"quantitative","axis":{"orient":"top","labels":false,"ticks":false,"title":null,"grid":false,"domainColor":"black","domainWidth":2}},
  "y":{"field":"y","type":"quantitative"},
  "color":{"field":"s","type":"nominal","scale":{"domain":["oNAQ","oNAQ_woDN","oBFGS","oBFGS_woDN"],"range":["#0000ff","#ffa500","#008000","#2b0b3f"]},
   "legend":{"orient":"none","legendX":604,"legendY":20,"title":null,"symbolType":"M-2.5,0L2.5,0","symbolSize":1024,"symbolOffset":24,"symbolStrokeWidth":5,"labelFontSize":34,"labelFont":"Lato","labelColor":"black","labelLimit":400,"rowPadding":17.7,"labelOffset":50,"padding":11,"strokeColor":"#d6d6d6","fillColor":"rgba(255,255,255,0.8)","cornerRadius":8}}
 }}
],
"resolve":{"axis":{"x":"independent"}}
}
